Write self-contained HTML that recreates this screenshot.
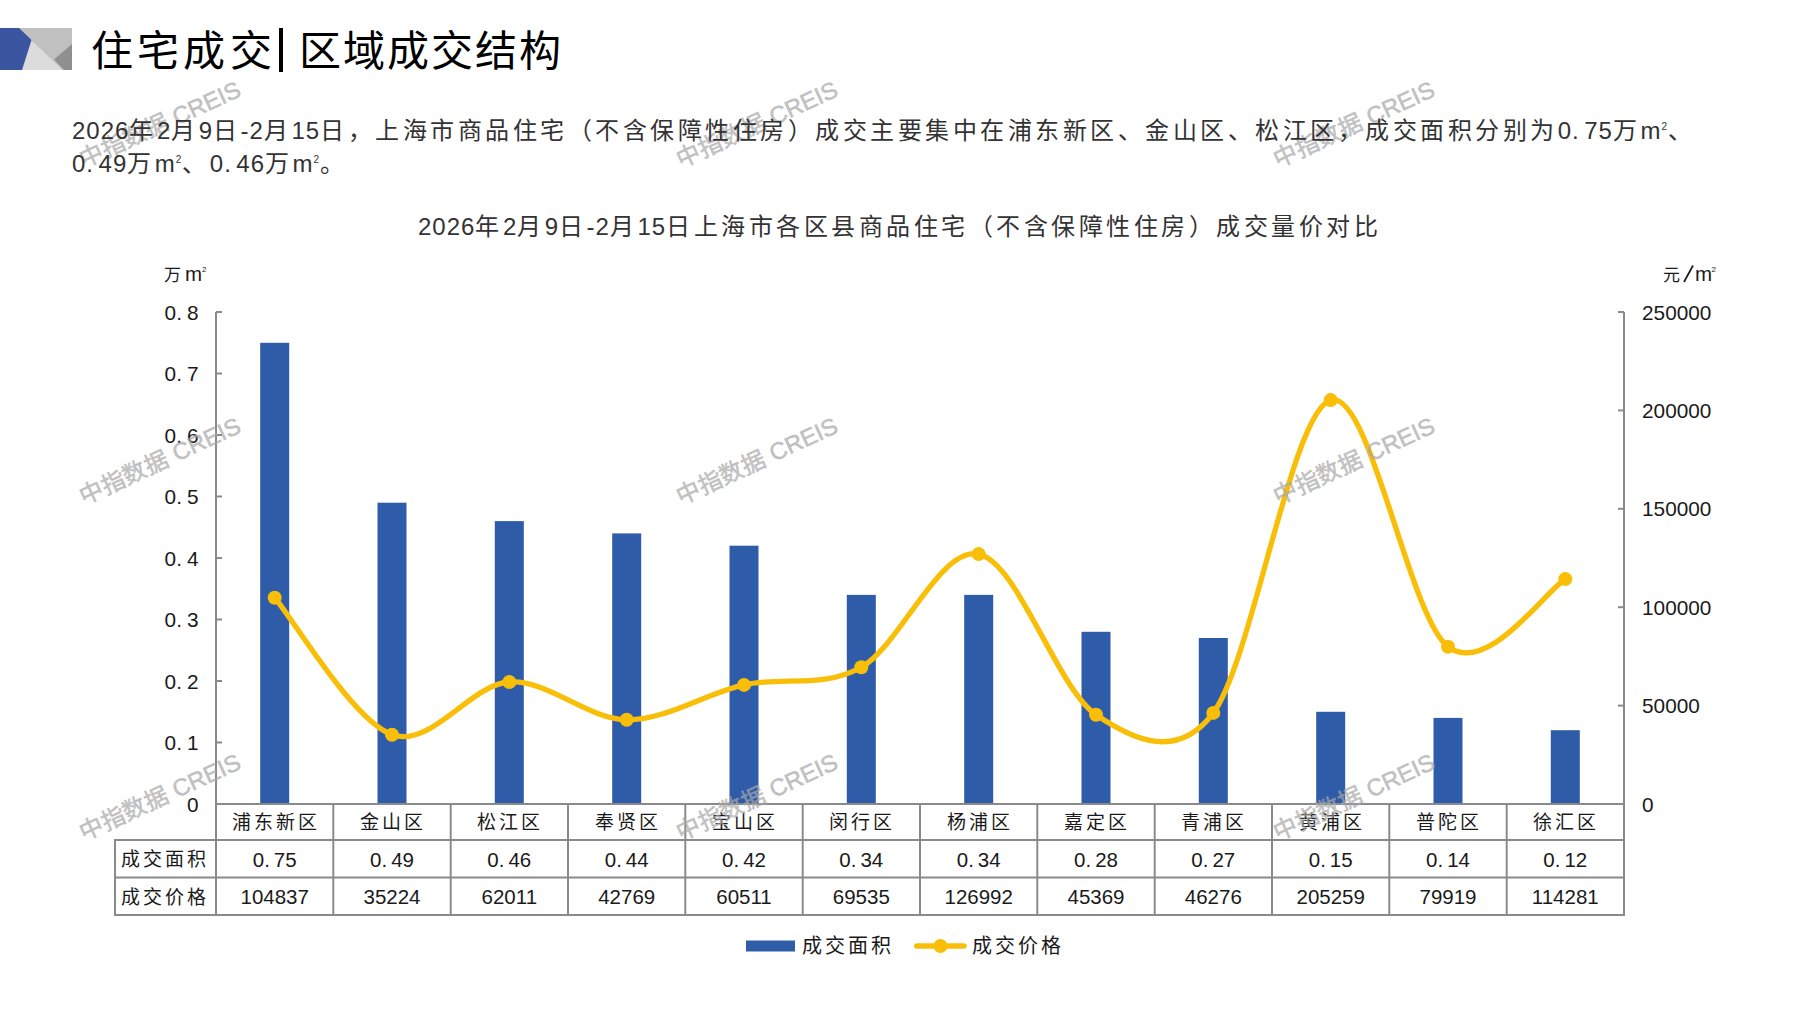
<!DOCTYPE html>
<html lang="zh-CN"><head><meta charset="utf-8"><style>
html,body{margin:0;padding:0;background:#fff;}
body{width:1797px;height:1010px;position:relative;overflow:hidden;font-family:"Liberation Sans",sans-serif;}
.abs{position:absolute;white-space:nowrap;}
.title{top:28px;font-size:42px;color:#000;line-height:48px;}
.tbar{left:279.3px;top:28px;width:3.6px;height:44px;background:#000;}
#para{left:72px;top:114px;font-size:24px;letter-spacing:3.5px;color:#333;line-height:33px;}
#para .n,#ctitle .n{letter-spacing:1px;}
.d{margin-right:4.5px;}
sup{font-size:10px;line-height:0;vertical-align:0;position:relative;top:-9px;letter-spacing:1px;}
#ctitle{left:418px;top:211.5px;font-size:24px;letter-spacing:3.5px;color:#333;line-height:30px;}

svg text{font-family:"Liberation Sans",sans-serif;}
.ax{font-size:20.8px;fill:#1a1a1a;}
.cat{font-size:19px;letter-spacing:3px;fill:#1a1a1a;}
.num{font-size:20.5px;fill:#1a1a1a;}
.unit{font-size:17px;fill:#1a1a1a;}
.wm{font-size:23.6px;fill:#a8a8a8;stroke:#a8a8a8;stroke-width:0.5;opacity:0.72;}
.lg{font-size:20px;letter-spacing:3px;fill:#1a1a1a;}
</style></head><body>
<svg class="abs" style="left:0;top:0" width="1797" height="1010" viewBox="0 0 1797 1010">
<polygon points="0,28 72,28 72,70 0,70" fill="#c0c0c0"/>
<polygon points="31,40 63,70 22,70" fill="#dcdcdc"/>
<polygon points="54,59.5 72,44 72,70 64,70" fill="#8f8f8f"/>
<polygon points="0,28 19,28 31.5,40 22,70 0,70" fill="#3b55a0"/>
<rect x="260.2" y="342.8" width="29.0" height="461.2" fill="#2f5ca9"/><rect x="377.5" y="502.7" width="29.0" height="301.3" fill="#2f5ca9"/><rect x="494.8" y="521.1" width="29.0" height="282.9" fill="#2f5ca9"/><rect x="612.2" y="533.4" width="29.0" height="270.6" fill="#2f5ca9"/><rect x="729.5" y="545.7" width="29.0" height="258.3" fill="#2f5ca9"/><rect x="846.8" y="594.9" width="29.0" height="209.1" fill="#2f5ca9"/><rect x="964.2" y="594.9" width="29.0" height="209.1" fill="#2f5ca9"/><rect x="1081.5" y="631.8" width="29.0" height="172.2" fill="#2f5ca9"/><rect x="1198.8" y="638.0" width="29.0" height="166.0" fill="#2f5ca9"/><rect x="1316.2" y="711.8" width="29.0" height="92.2" fill="#2f5ca9"/><rect x="1433.5" y="717.9" width="29.0" height="86.1" fill="#2f5ca9"/><rect x="1550.8" y="730.2" width="29.0" height="73.8" fill="#2f5ca9"/><g stroke="#8a8a8a" stroke-width="2" fill="none"><line x1="216.0" y1="312.0" x2="216.0" y2="916"/><line x1="1624.0" y1="312.0" x2="1624.0" y2="916"/><line x1="216.0" y1="804.0" x2="1624.0" y2="804.0"/><line x1="114" y1="840" x2="1625.0" y2="840"/><line x1="114" y1="877.5" x2="1625.0" y2="877.5"/><line x1="114" y1="915" x2="1625.0" y2="915"/><line x1="115" y1="839" x2="115" y2="916"/><line x1="333.3" y1="804.0" x2="333.3" y2="916"/><line x1="450.7" y1="804.0" x2="450.7" y2="916"/><line x1="568.0" y1="804.0" x2="568.0" y2="916"/><line x1="685.3" y1="804.0" x2="685.3" y2="916"/><line x1="802.7" y1="804.0" x2="802.7" y2="916"/><line x1="920.0" y1="804.0" x2="920.0" y2="916"/><line x1="1037.3" y1="804.0" x2="1037.3" y2="916"/><line x1="1154.7" y1="804.0" x2="1154.7" y2="916"/><line x1="1272.0" y1="804.0" x2="1272.0" y2="916"/><line x1="1389.3" y1="804.0" x2="1389.3" y2="916"/><line x1="1506.7" y1="804.0" x2="1506.7" y2="916"/><line x1="216.0" y1="312.0" x2="222.0" y2="312.0"/><line x1="216.0" y1="373.5" x2="222.0" y2="373.5"/><line x1="216.0" y1="435.0" x2="222.0" y2="435.0"/><line x1="216.0" y1="496.5" x2="222.0" y2="496.5"/><line x1="216.0" y1="558.0" x2="222.0" y2="558.0"/><line x1="216.0" y1="619.5" x2="222.0" y2="619.5"/><line x1="216.0" y1="681.0" x2="222.0" y2="681.0"/><line x1="216.0" y1="742.5" x2="222.0" y2="742.5"/><line x1="216.0" y1="804.0" x2="222.0" y2="804.0"/><line x1="1618.0" y1="312.0" x2="1624.0" y2="312.0"/><line x1="1618.0" y1="410.4" x2="1624.0" y2="410.4"/><line x1="1618.0" y1="508.8" x2="1624.0" y2="508.8"/><line x1="1618.0" y1="607.2" x2="1624.0" y2="607.2"/><line x1="1618.0" y1="705.6" x2="1624.0" y2="705.6"/><line x1="1618.0" y1="804.0" x2="1624.0" y2="804.0"/></g><path d="M274.7,597.7 C294.2,620.5 352.9,720.6 392.0,734.7 C431.1,748.7 470.2,684.4 509.3,682.0 C548.4,679.5 587.6,719.3 626.7,719.8 C665.8,720.3 704.9,693.7 744.0,684.9 C783.1,676.1 822.2,689.0 861.3,667.2 C900.4,645.3 939.6,546.2 978.7,554.1 C1017.8,562.0 1056.9,688.2 1096.0,714.7 C1135.1,741.2 1178.3,760.0 1213.3,712.9 C1252.4,660.5 1291.6,411.1 1330.7,400.1 C1369.8,389.0 1408.9,616.9 1448.0,646.7 C1487.1,676.6 1545.8,590.4 1565.3,579.1" fill="none" stroke="#f9bf08" stroke-width="5.3" stroke-linecap="round"/><circle cx="274.7" cy="597.7" r="7" fill="#f9bf08"/><circle cx="392.0" cy="734.7" r="7" fill="#f9bf08"/><circle cx="509.3" cy="682.0" r="7" fill="#f9bf08"/><circle cx="626.7" cy="719.8" r="7" fill="#f9bf08"/><circle cx="744.0" cy="684.9" r="7" fill="#f9bf08"/><circle cx="861.3" cy="667.2" r="7" fill="#f9bf08"/><circle cx="978.7" cy="554.1" r="7" fill="#f9bf08"/><circle cx="1096.0" cy="714.7" r="7" fill="#f9bf08"/><circle cx="1213.3" cy="712.9" r="7" fill="#f9bf08"/><circle cx="1330.7" cy="400.1" r="7" fill="#f9bf08"/><circle cx="1448.0" cy="646.7" r="7" fill="#f9bf08"/><circle cx="1565.3" cy="579.1" r="7" fill="#f9bf08"/>
<text x="198.5" y="319.5" text-anchor="end" class="ax">0.<tspan dx="5">8</tspan></text><text x="198.5" y="381.0" text-anchor="end" class="ax">0.<tspan dx="5">7</tspan></text><text x="198.5" y="442.5" text-anchor="end" class="ax">0.<tspan dx="5">6</tspan></text><text x="198.5" y="504.0" text-anchor="end" class="ax">0.<tspan dx="5">5</tspan></text><text x="198.5" y="565.5" text-anchor="end" class="ax">0.<tspan dx="5">4</tspan></text><text x="198.5" y="627.0" text-anchor="end" class="ax">0.<tspan dx="5">3</tspan></text><text x="198.5" y="688.5" text-anchor="end" class="ax">0.<tspan dx="5">2</tspan></text><text x="198.5" y="750.0" text-anchor="end" class="ax">0.<tspan dx="5">1</tspan></text><text x="198.5" y="811.5" text-anchor="end" class="ax">0</text><text x="1642" y="319.5" class="ax">250000</text><text x="1642" y="417.9" class="ax">200000</text><text x="1642" y="516.3" class="ax">150000</text><text x="1642" y="614.7" class="ax">100000</text><text x="1642" y="713.1" class="ax">50000</text><text x="1642" y="811.5" class="ax">0</text><text x="275.7" y="829" text-anchor="middle" class="cat">浦东新区</text><text x="393.0" y="829" text-anchor="middle" class="cat">金山区</text><text x="510.3" y="829" text-anchor="middle" class="cat">松江区</text><text x="627.7" y="829" text-anchor="middle" class="cat">奉贤区</text><text x="745.0" y="829" text-anchor="middle" class="cat">宝山区</text><text x="862.3" y="829" text-anchor="middle" class="cat">闵行区</text><text x="979.7" y="829" text-anchor="middle" class="cat">杨浦区</text><text x="1097.0" y="829" text-anchor="middle" class="cat">嘉定区</text><text x="1214.3" y="829" text-anchor="middle" class="cat">青浦区</text><text x="1331.7" y="829" text-anchor="middle" class="cat">黄浦区</text><text x="1449.0" y="829" text-anchor="middle" class="cat">普陀区</text><text x="1566.3" y="829" text-anchor="middle" class="cat">徐汇区</text><text x="274.7" y="866.5" text-anchor="middle" class="num">0.<tspan dx="4">75</tspan></text><text x="392.0" y="866.5" text-anchor="middle" class="num">0.<tspan dx="4">49</tspan></text><text x="509.3" y="866.5" text-anchor="middle" class="num">0.<tspan dx="4">46</tspan></text><text x="626.7" y="866.5" text-anchor="middle" class="num">0.<tspan dx="4">44</tspan></text><text x="744.0" y="866.5" text-anchor="middle" class="num">0.<tspan dx="4">42</tspan></text><text x="861.3" y="866.5" text-anchor="middle" class="num">0.<tspan dx="4">34</tspan></text><text x="978.7" y="866.5" text-anchor="middle" class="num">0.<tspan dx="4">34</tspan></text><text x="1096.0" y="866.5" text-anchor="middle" class="num">0.<tspan dx="4">28</tspan></text><text x="1213.3" y="866.5" text-anchor="middle" class="num">0.<tspan dx="4">27</tspan></text><text x="1330.7" y="866.5" text-anchor="middle" class="num">0.<tspan dx="4">15</tspan></text><text x="1448.0" y="866.5" text-anchor="middle" class="num">0.<tspan dx="4">14</tspan></text><text x="1565.3" y="866.5" text-anchor="middle" class="num">0.<tspan dx="4">12</tspan></text><text x="274.7" y="904" text-anchor="middle" class="num">104837</text><text x="392.0" y="904" text-anchor="middle" class="num">35224</text><text x="509.3" y="904" text-anchor="middle" class="num">62011</text><text x="626.7" y="904" text-anchor="middle" class="num">42769</text><text x="744.0" y="904" text-anchor="middle" class="num">60511</text><text x="861.3" y="904" text-anchor="middle" class="num">69535</text><text x="978.7" y="904" text-anchor="middle" class="num">126992</text><text x="1096.0" y="904" text-anchor="middle" class="num">45369</text><text x="1213.3" y="904" text-anchor="middle" class="num">46276</text><text x="1330.7" y="904" text-anchor="middle" class="num">205259</text><text x="1448.0" y="904" text-anchor="middle" class="num">79919</text><text x="1565.3" y="904" text-anchor="middle" class="num">114281</text><text x="121" y="866" class="cat">成交面积</text><text x="121" y="904" class="cat">成交价格</text>
<text x="164" y="281" class="unit">万<tspan x="185" font-size="20.5">m</tspan><tspan x="202" font-size="8" dy="-9">2</tspan></text>
<text x="1663" y="281" class="unit">元</text><line x1="1684" y1="282" x2="1693" y2="265.5" stroke="#1a1a1a" stroke-width="1.7"/><text x="1695" y="281" class="unit"><tspan font-size="20.5">m</tspan><tspan x="1711.5" font-size="8" dy="-9">2</tspan></text>
<rect x="746" y="940.5" width="49" height="11" fill="#2f5ca9"/>
<text x="802" y="953" class="lg">成交面积</text>
<line x1="916.8" y1="946" x2="964" y2="946" stroke="#f9bf08" stroke-width="5.6" stroke-linecap="round"/>
<circle cx="940.5" cy="946" r="7" fill="#f9bf08"/>
<text x="972" y="953" class="lg">成交价格</text>
<text x="83.9" y="168.3" transform="rotate(-24.7 83.9 168.3)" class="wm">中指数据 CREIS</text><text x="680.9" y="168.3" transform="rotate(-24.7 680.9 168.3)" class="wm">中指数据 CREIS</text><text x="1277.9" y="168.3" transform="rotate(-24.7 1277.9 168.3)" class="wm">中指数据 CREIS</text><text x="83.9" y="504.6" transform="rotate(-24.7 83.9 504.6)" class="wm">中指数据 CREIS</text><text x="680.9" y="504.6" transform="rotate(-24.7 680.9 504.6)" class="wm">中指数据 CREIS</text><text x="1277.9" y="504.6" transform="rotate(-24.7 1277.9 504.6)" class="wm">中指数据 CREIS</text><text x="83.9" y="840.9" transform="rotate(-24.7 83.9 840.9)" class="wm">中指数据 CREIS</text><text x="680.9" y="840.9" transform="rotate(-24.7 680.9 840.9)" class="wm">中指数据 CREIS</text><text x="1277.9" y="840.9" transform="rotate(-24.7 1277.9 840.9)" class="wm">中指数据 CREIS</text>
</svg>
<div class="abs title" style="left:91px;letter-spacing:4.2px">住宅成交</div><div class="abs tbar"></div><div class="abs title" style="left:299px;letter-spacing:2px">区域成交结构</div>
<div class="abs" id="para"><span class="n">2026</span>年<span class="n">2</span>月<span class="n">9</span>日<span class="n">-2</span>月<span class="n">15</span>日，上海市商品住宅（不含保障性住房）成交主要集中在浦东新区、金山区、松江区，成交面积分别为<span class="n">0<span class="d">.</span>75</span>万<span class="n">m<sup>2</sup></span>、<br><span class="n">0<span class="d">.</span>49</span>万<span class="n">m<sup>2</sup></span>、<span class="n">0<span class="d">.</span>46</span>万<span class="n">m<sup>2</sup></span>。</div>
<div class="abs" id="ctitle"><span class="n">2026</span>年<span class="n">2</span>月<span class="n">9</span>日<span class="n">-2</span>月<span class="n">15</span>日上海市各区县商品住宅（不含保障性住房）成交量价对比</div>
</body></html>
